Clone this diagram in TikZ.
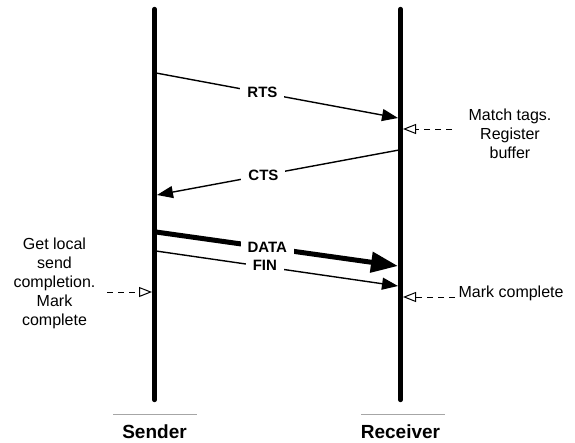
\documentclass[tikz,border=0pt]{standalone}
\usepackage{fontspec}
\setmainfont{Liberation Sans}
\usetikzlibrary{arrows.meta}

\begin{document}
\begin{tikzpicture}[
  x=1pt,y=-1pt,
  semithick,
  >={Triangle[length=16pt,width=12pt]},
  life/.style={line width=4.4pt,line cap=round},
  msg/.style={line width=1.4pt,->},
  bigmsg/.style={line width=5pt,-{Triangle[length=27pt,width=20pt]}},
  tag/.style={fill=white,inner xsep=7pt,inner ysep=2pt,font=\bfseries\fontsize{15}{18}\selectfont},
  note/.style={align=center,font=\fontsize{16}{19}\selectfont},
  hint/.style={line width=1pt,dash pattern=on 6pt off 5pt,-{Triangle[open,length=13pt,width=10pt]}},
  base/.style={draw=gray!70,line width=1pt},
  who/.style={font=\bfseries\fontsize{19}{22}\selectfont}
]
  \useasboundingbox (0,0) rectangle (575,442);
  % lifelines
  \coordinate (s-top) at (154.5,9);
  \coordinate (s-bot) at (154.5,400);
  \coordinate (r-top) at (400.5,9);
  \coordinate (r-bot) at (400.5,400);
  \draw[life] (s-top) -- (s-bot);
  \draw[life] (r-top) -- (r-bot);
  % message ends
  \coordinate (rts-a) at (156,73);
  \coordinate (rts-b) at (398,118);
  \coordinate (cts-a) at (399,150);
  \coordinate (cts-b) at (157,195);
  \coordinate (data-a) at (156,232);
  \coordinate (data-b) at (398,266);
  \coordinate (fin-a) at (156,251);
  \coordinate (fin-b) at (398,286);
  \path
    (rts-a) edge [msg] node [tag,pos=.44] {RTS} (rts-b)
    (cts-a) edge [msg] node [tag,pos=.56] {CTS} (cts-b)
    (data-a) edge [bigmsg] node [tag,pos=.46] {DATA} (data-b)
    (fin-a) edge [msg] node [tag,pos=.45,yshift=1pt] {FIN} (fin-b)
  ;
  % notes
  \node[note] (match) at (510,134) {Match tags.\\Register\\buffer};
  \coordinate (match-a) at (452,129);
  \coordinate (match-b) at (403,129);
  \draw[hint] (match-a) -- (match-b);
  \node[note,anchor=west] (recvdone) at (455,293) {Mark complete};
  \coordinate (recv-b) at (403,297);
  \draw[hint] (recvdone.west|-recv-b) -- (recv-b);
  \node[note] (senddone) at (54.5,283) {Get local\\send\\completion.\\Mark\\complete};
  \coordinate (send-a) at (107,292);
  \coordinate (send-b) at (152,292);
  \draw[hint] (send-a) -- (send-b);
  % names
  \draw[base] (113,414) -- (197,414);
  \draw[base] (361,414) -- (445,414);
  \node[who] (sender) at (154.5,432) {Sender};
  \node[who] (receiver) at (400.5,432) {Receiver};
\end{tikzpicture}
\end{document}
